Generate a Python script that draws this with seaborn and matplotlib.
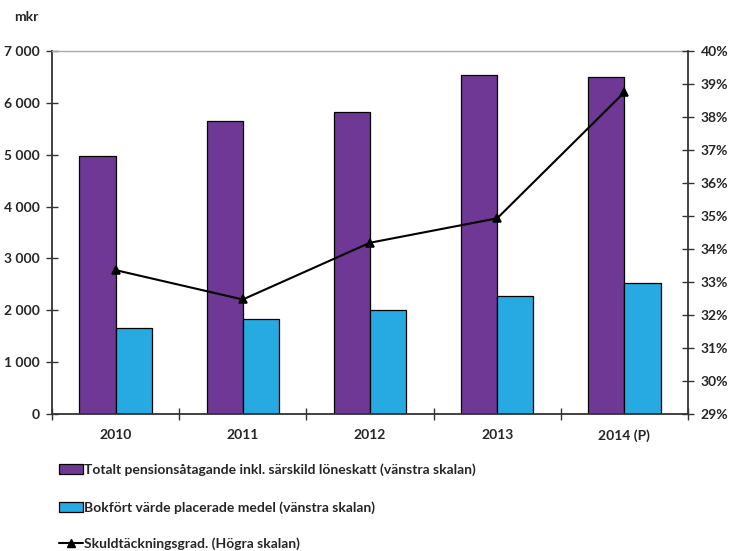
import matplotlib
matplotlib.use("Agg")
import matplotlib.pyplot as plt
import seaborn as sns
import pandas as pd
import numpy as np
from matplotlib import font_manager
from matplotlib.font_manager import FontProperties
from matplotlib.patches import Patch
from matplotlib.lines import Line2D
from matplotlib.ticker import FuncFormatter, MultipleLocator

years = ["2010", "2011", "2012", "2013", "2014 (P)"]
pension = [4981, 5644, 5830, 6531, 6492]
placed = [1665, 1832, 2000, 2282, 2520]
coverage = [33.36, 32.47, 34.19, 34.93, 38.75]

lab_pension = "Totalt pensionsåtagande inkl. särskild löneskatt (vänstra skalan)"
lab_placed = "Bokfört värde placerade medel (vänstra skalan)"
lab_cov = "Skuldtäckningsgrad. (Högra skalan)"

purple = "#6E3894"
cyan = "#27AAE1"
FS = 10

sns.set_theme(style="white")
plt.rcParams["font.family"] = ["Lato", "DejaVu Sans"]

# locate the bold Lato face explicitly
bold_path = None
for fe in font_manager.fontManager.ttflist:
    if fe.name == "Lato" and fe.weight == 700 and fe.style == "normal":
        bold_path = fe.fname
        break
if bold_path is not None:
    FP = FontProperties(fname=bold_path, size=FS)
else:
    FP = FontProperties(family="Lato", weight="bold", size=FS)

df = pd.DataFrame({
    "year": years * 2,
    "value": pension + placed,
    "series": [lab_pension] * len(years) + [lab_placed] * len(years),
})
df_line = pd.DataFrame({"year": years, "cov": coverage})

fig = plt.figure(figsize=(7.29, 5.51), dpi=100)
ax = fig.add_axes([52 / 729, 1 - 414 / 551, (688 - 52) / 729, (414 - 51) / 551])

sns.barplot(data=df, x="year", y="value", hue="series", order=years,
            palette=[purple, cyan], width=0.57, edgecolor="black",
            linewidth=0.9, ax=ax, legend=False, saturation=1)

ax.set_ylim(0, 7000)
ax.set_xlim(-0.5, len(years) - 0.5)
ax.yaxis.set_major_locator(MultipleLocator(1000))
ax.yaxis.set_major_formatter(FuncFormatter(lambda v, p: f"{int(v):,}".replace(",", " ")))
ax.set_xlabel("")
ax.set_ylabel("")

ax2 = ax.twinx()
sns.pointplot(data=df_line, x="year", y="cov", order=years, color="black",
              markers="^", markersize=6, linewidth=1.5, ax=ax2)
ax2.set_ylim(29, 40)
ax2.set_xlim(-0.5, len(years) - 0.5)
ax2.yaxis.set_major_locator(MultipleLocator(1))
ax2.yaxis.set_major_formatter(FuncFormatter(lambda v, p: f"{int(round(v))}%"))
ax2.set_xlabel("")
ax2.set_ylabel("")

for a in (ax, ax2):
    for s in a.spines.values():
        s.set_visible(False)

spine_col = "#333333"
ax.spines["left"].set_visible(True)
ax.spines["left"].set_color(spine_col)
ax.spines["left"].set_linewidth(1.3)
ax.spines["bottom"].set_visible(True)
ax.spines["bottom"].set_color(spine_col)
ax.spines["bottom"].set_linewidth(1.3)
ax.spines["top"].set_visible(True)
ax.spines["top"].set_color("#AAAAAA")
ax.spines["top"].set_linewidth(1.0)
ax2.spines["right"].set_visible(True)
ax2.spines["right"].set_color(spine_col)
ax2.spines["right"].set_linewidth(1.3)

ax.tick_params(axis="y", direction="inout", length=8, width=1, color=spine_col,
               labelsize=FS, pad=5, left=True)
ax2.tick_params(axis="y", direction="inout", length=8, width=1, color=spine_col,
                labelsize=FS, pad=5, right=True)
ax.set_xticks(range(len(years)))
ax.set_xticklabels(years)
ax.tick_params(axis="x", which="major", length=0, labelsize=FS, pad=11)
ax.set_xticks(np.arange(-0.5, len(years), 1.0), minor=True)
ax.tick_params(axis="x", which="minor", direction="inout", length=9, width=1,
               color=spine_col, bottom=True)
for lbl in ax.get_xticklabels() + ax.get_yticklabels() + ax2.get_yticklabels():
    lbl.set_fontproperties(FP)

fig.text(14 / 729, 1 - 17 / 551, "mkr", fontproperties=FP, va="center")

handles = [
    Patch(facecolor=purple, edgecolor="black", linewidth=0.9),
    Patch(facecolor=cyan, edgecolor="black", linewidth=0.9),
    Line2D([0], [0], color="black", linewidth=1.5, marker="^", markersize=6),
]
labels = [lab_pension, lab_placed, lab_cov]
row_y = [470, 508, 544]
for h, l, yy in zip(handles, labels, row_y):
    fig.legend([h], [l], loc="center left", bbox_to_anchor=(59 / 729, 1 - yy / 551),
               frameon=False, handlelength=1.7, handleheight=0.7,
               handletextpad=0.1, borderaxespad=0, borderpad=0, prop=FP)

fig.savefig("out.png", dpi=100)
